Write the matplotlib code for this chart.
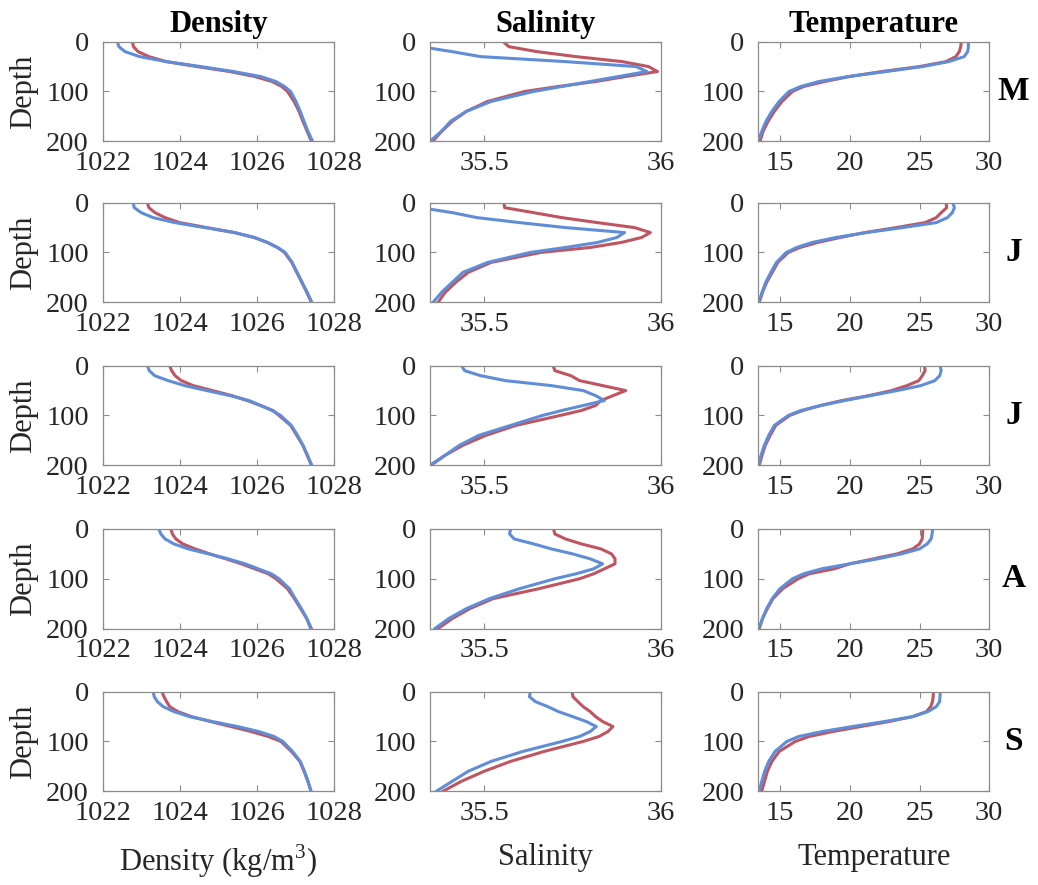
import numpy as np
import matplotlib.pyplot as plt

plt.rcParams['font.family'] = 'Liberation Serif'
plt.rcParams['mathtext.fontset'] = 'custom'
plt.rcParams['mathtext.rm'] = 'Liberation Serif'

# depth levels (m) shared by every profile
DEPTH = [0, 10, 20, 30, 40, 50, 60, 70, 80, 90, 100, 120, 140, 160, 180, 200]

MONTHS = ['M', 'J', 'J', 'A', 'S']
TITLES = ['Density', 'Salinity', 'Temperature']
XLABELS = ['Density (kg/m$^3$)', 'Salinity', 'Temperature']

# density profiles, one row per month
density_red = [
    [1022.77, 1022.80, 1022.92, 1023.20, 1023.65, 1024.45, 1025.30, 1025.95, 1026.40, 1026.65, 1026.80, 1026.97, 1027.10, 1027.20, 1027.31, 1027.42],
    [1023.16, 1023.20, 1023.36, 1023.62, 1024.00, 1024.70, 1025.42, 1025.94, 1026.28, 1026.54, 1026.72, 1026.91, 1027.04, 1027.17, 1027.30, 1027.42],
    [1023.74, 1023.79, 1023.88, 1024.04, 1024.35, 1024.85, 1025.35, 1025.75, 1026.10, 1026.42, 1026.58, 1026.88, 1027.04, 1027.20, 1027.31, 1027.42],
    [1023.77, 1023.81, 1023.90, 1024.08, 1024.40, 1024.78, 1025.20, 1025.60, 1025.95, 1026.30, 1026.50, 1026.80, 1026.98, 1027.14, 1027.30, 1027.42],
    [1023.54, 1023.59, 1023.66, 1023.74, 1023.95, 1024.30, 1024.80, 1025.33, 1025.85, 1026.30, 1026.63, 1026.90, 1027.12, 1027.23, 1027.33, 1027.41],
]
density_blue = [
    [1022.38, 1022.42, 1022.58, 1022.96, 1023.65, 1024.55, 1025.40, 1026.10, 1026.50, 1026.72, 1026.88, 1027.02, 1027.13, 1027.23, 1027.33, 1027.45],
    [1022.79, 1022.82, 1023.00, 1023.31, 1023.87, 1024.65, 1025.42, 1025.94, 1026.28, 1026.54, 1026.74, 1026.92, 1027.05, 1027.18, 1027.31, 1027.43],
    [1023.16, 1023.21, 1023.35, 1023.70, 1024.13, 1024.70, 1025.30, 1025.80, 1026.10, 1026.40, 1026.62, 1026.90, 1027.06, 1027.20, 1027.32, 1027.43],
    [1023.46, 1023.51, 1023.62, 1023.85, 1024.22, 1024.75, 1025.26, 1025.70, 1026.04, 1026.38, 1026.58, 1026.85, 1027.00, 1027.16, 1027.30, 1027.40],
    [1023.31, 1023.34, 1023.42, 1023.57, 1023.85, 1024.25, 1024.85, 1025.50, 1026.05, 1026.45, 1026.68, 1026.93, 1027.13, 1027.24, 1027.33, 1027.41],
]

# salinity profiles
salinity_red = [
    [35.554, 35.570, 35.650, 35.760, 35.890, 35.965, 35.990, 35.900, 35.815, 35.710, 35.615, 35.510, 35.450, 35.410, 35.380, 35.355],
    [35.556, 35.558, 35.640, 35.720, 35.820, 35.925, 35.970, 35.945, 35.887, 35.800, 35.660, 35.520, 35.455, 35.420, 35.390, 35.370],
    [35.695, 35.700, 35.745, 35.770, 35.835, 35.900, 35.865, 35.830, 35.815, 35.775, 35.715, 35.590, 35.505, 35.440, 35.390, 35.350],
    [35.696, 35.700, 35.730, 35.775, 35.830, 35.860, 35.870, 35.870, 35.840, 35.810, 35.770, 35.655, 35.525, 35.460, 35.410, 35.370],
    [35.749, 35.751, 35.765, 35.780, 35.800, 35.815, 35.835, 35.864, 35.850, 35.825, 35.780, 35.670, 35.575, 35.500, 35.436, 35.384],
]
salinity_blue = [
    [35.300, 35.320, 35.410, 35.490, 35.730, 35.930, 35.960, 35.880, 35.800, 35.720, 35.640, 35.520, 35.450, 35.405, 35.380, 35.347],
    [35.300, 35.320, 35.410, 35.480, 35.600, 35.730, 35.897, 35.875, 35.820, 35.730, 35.630, 35.510, 35.440, 35.410, 35.380, 35.356],
    [35.436, 35.445, 35.490, 35.560, 35.690, 35.780, 35.815, 35.840, 35.780, 35.720, 35.665, 35.575, 35.485, 35.430, 35.390, 35.347],
    [35.575, 35.572, 35.585, 35.640, 35.690, 35.750, 35.800, 35.835, 35.810, 35.760, 35.700, 35.600, 35.515, 35.450, 35.400, 35.361],
    [35.631, 35.628, 35.645, 35.680, 35.710, 35.750, 35.789, 35.817, 35.800, 35.770, 35.720, 35.610, 35.520, 35.455, 35.410, 35.365],
]

# temperature profiles
temperature_red = [
    [28.00, 27.95, 27.85, 27.60, 26.90, 25.00, 22.30, 20.00, 18.20, 16.70, 15.90, 15.15, 14.60, 14.15, 13.80, 13.57],
    [26.90, 26.95, 26.55, 26.20, 25.40, 23.33, 21.10, 19.30, 17.70, 16.43, 15.60, 14.85, 14.45, 14.05, 13.75, 13.52],
    [25.36, 25.40, 25.20, 24.95, 24.10, 23.00, 21.40, 19.45, 17.90, 16.65, 15.70, 14.70, 14.30, 13.95, 13.72, 13.52],
    [25.24, 25.22, 25.19, 25.00, 24.52, 23.40, 21.70, 20.00, 18.90, 17.10, 16.30, 15.20, 14.50, 14.10, 13.75, 13.52],
    [26.00, 25.98, 25.93, 25.80, 25.50, 24.52, 22.80, 20.80, 18.80, 17.10, 16.10, 14.95, 14.43, 14.10, 13.90, 13.69],
]
temperature_blue = [
    [28.50, 28.50, 28.45, 28.20, 27.10, 25.20, 22.60, 19.90, 17.80, 16.50, 15.65, 14.95, 14.42, 14.00, 13.70, 13.45],
    [27.38, 27.50, 27.35, 27.00, 26.20, 23.80, 21.20, 19.00, 17.30, 16.20, 15.45, 14.75, 14.35, 13.98, 13.72, 13.50],
    [26.48, 26.55, 26.45, 26.10, 25.10, 23.40, 21.50, 19.65, 17.95, 16.50, 15.60, 14.60, 14.20, 13.88, 13.65, 13.48],
    [25.95, 25.90, 25.83, 25.55, 25.00, 23.70, 22.00, 20.00, 18.00, 16.70, 15.90, 15.00, 14.45, 14.05, 13.75, 13.50],
    [26.48, 26.47, 26.44, 26.20, 25.60, 24.52, 22.50, 20.20, 18.05, 16.35, 15.50, 14.65, 14.20, 13.90, 13.70, 13.52],
]

RED = '#BF5560'
BLUE = '#5F8DD8'
GREY = '#8c8c8c'
TXT = '#262626'

xlims = [(1022, 1028), (35.347, 36.0), (13.45, 30)]
xticks = [[1022, 1024, 1026, 1028], [35.5, 36], [15, 20, 25, 30]]
xticklabels = [['1022', '1024', '1026', '1028'], ['35.5', '36'], ['15', '20', '25', '30']]
red_sets = [density_red, salinity_red, temperature_red]
blue_sets = [density_blue, salinity_blue, temperature_blue]

W, H = 1038, 885
fig = plt.figure(figsize=(W / 100, H / 100), dpi=100)

col_left = [102.7, 430.0, 758.3]
row_top = [41.7, 202.7, 365.7, 529.0, 691.7]
aw, ah = 231.0, 99.5

for r in range(5):
    for c in range(3):
        ax = fig.add_axes([col_left[c] / W, 1 - (row_top[r] + ah) / H, aw / W, ah / H])
        ax.plot(red_sets[c][r], DEPTH, color=RED, lw=2.2)
        ax.plot(blue_sets[c][r], DEPTH, color=BLUE, lw=2.2)
        ax.set_xlim(*xlims[c])
        ax.set_ylim(200, 0)
        ax.set_yticks([0, 100, 200])
        ax.set_xticks(xticks[c])
        ax.set_xticklabels(xticklabels[c])
        ax.tick_params(direction='in', top=True, right=True, length=4, width=0.8,
                       color=GREY, labelsize=20.5, labelcolor=TXT)
        ax.tick_params(axis='x', pad=7)
        ax.tick_params(axis='y', pad=10)
        for s in ax.spines.values():
            s.set_color(GREY)
            s.set_linewidth(0.9)
        if c == 0:
            ax.set_ylabel('Depth', fontsize=22, color=TXT, labelpad=6)
        if r == 0:
            ax.set_title(TITLES[c], fontsize=22, fontweight='bold', pad=7)
        if r == 4:
            ax.set_xlabel(XLABELS[c], fontsize=22, color=TXT, labelpad=12)
        if c == 2:
            ax.text(1.105, 0.5, MONTHS[r], transform=ax.transAxes, fontsize=24,
                    fontweight='bold', ha='center', va='center')

fig.savefig('out.png', dpi=100)
